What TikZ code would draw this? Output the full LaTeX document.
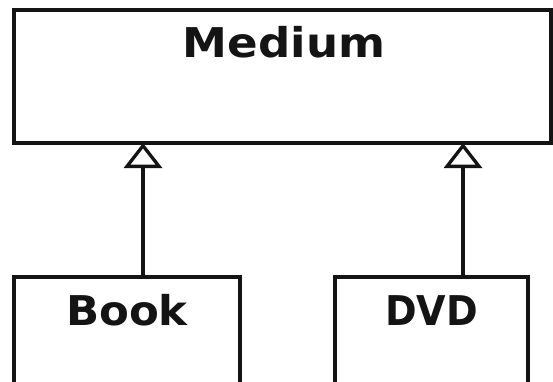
\documentclass[tikz,border=0pt]{standalone}
\usepackage{fontspec}
\setsansfont{DejaVu Sans}
\usetikzlibrary{arrows.meta}
\begin{document}
\begin{tikzpicture}[x=1pt, y=-1pt,
  classbox/.style={draw=black!92, line width=3.3pt, rectangle, inner sep=0pt, outer sep=0pt, anchor=north west},
  classname/.style={font=\sffamily\bfseries\fontsize{41}{48}\selectfont, text=black!92, inner sep=0pt, anchor=base},
  inherit/.style={draw=black!92, line width=3.3pt, -{Triangle[open, length=25pt, width=38pt]}}]
  \useasboundingbox (0,0) rectangle (553,382);
  \clip (0,0) rectangle (553,382);
  \fill[white] (0,0) rectangle (553,382);

  % superclass
  \node[classbox, minimum width=537pt, minimum height=133pt] (medium) at (14,10) {};
  \node[classname] (mediumname) at ([xshift=1.5pt, yshift=-48pt]medium.north) {\scalebox{1.1}[1]{Medium}};

  % subclasses (their lower part runs past the frame)
  \node[classbox, minimum width=226pt, minimum height=130pt] (book) at (14,277) {};
  \node[classname] (bookname) at ([yshift=-48pt]book.north) {\scalebox{1.06}[1]{Book}};

  \node[classbox, minimum width=193pt, minimum height=130pt] (dvd) at (335,277) {};
  \node[classname] (dvdname) at ([yshift=-48pt]dvd.north) {\scalebox{0.93}[1]{DVD}};

  % generalisation arrows
  \draw[inherit] ([xshift=16pt]book.north) -- ([xshift=16pt]book.north |- medium.south);
  \draw[inherit] ([xshift=31.5pt]dvd.north) -- ([xshift=31.5pt]dvd.north |- medium.south);
\end{tikzpicture}
\end{document}
